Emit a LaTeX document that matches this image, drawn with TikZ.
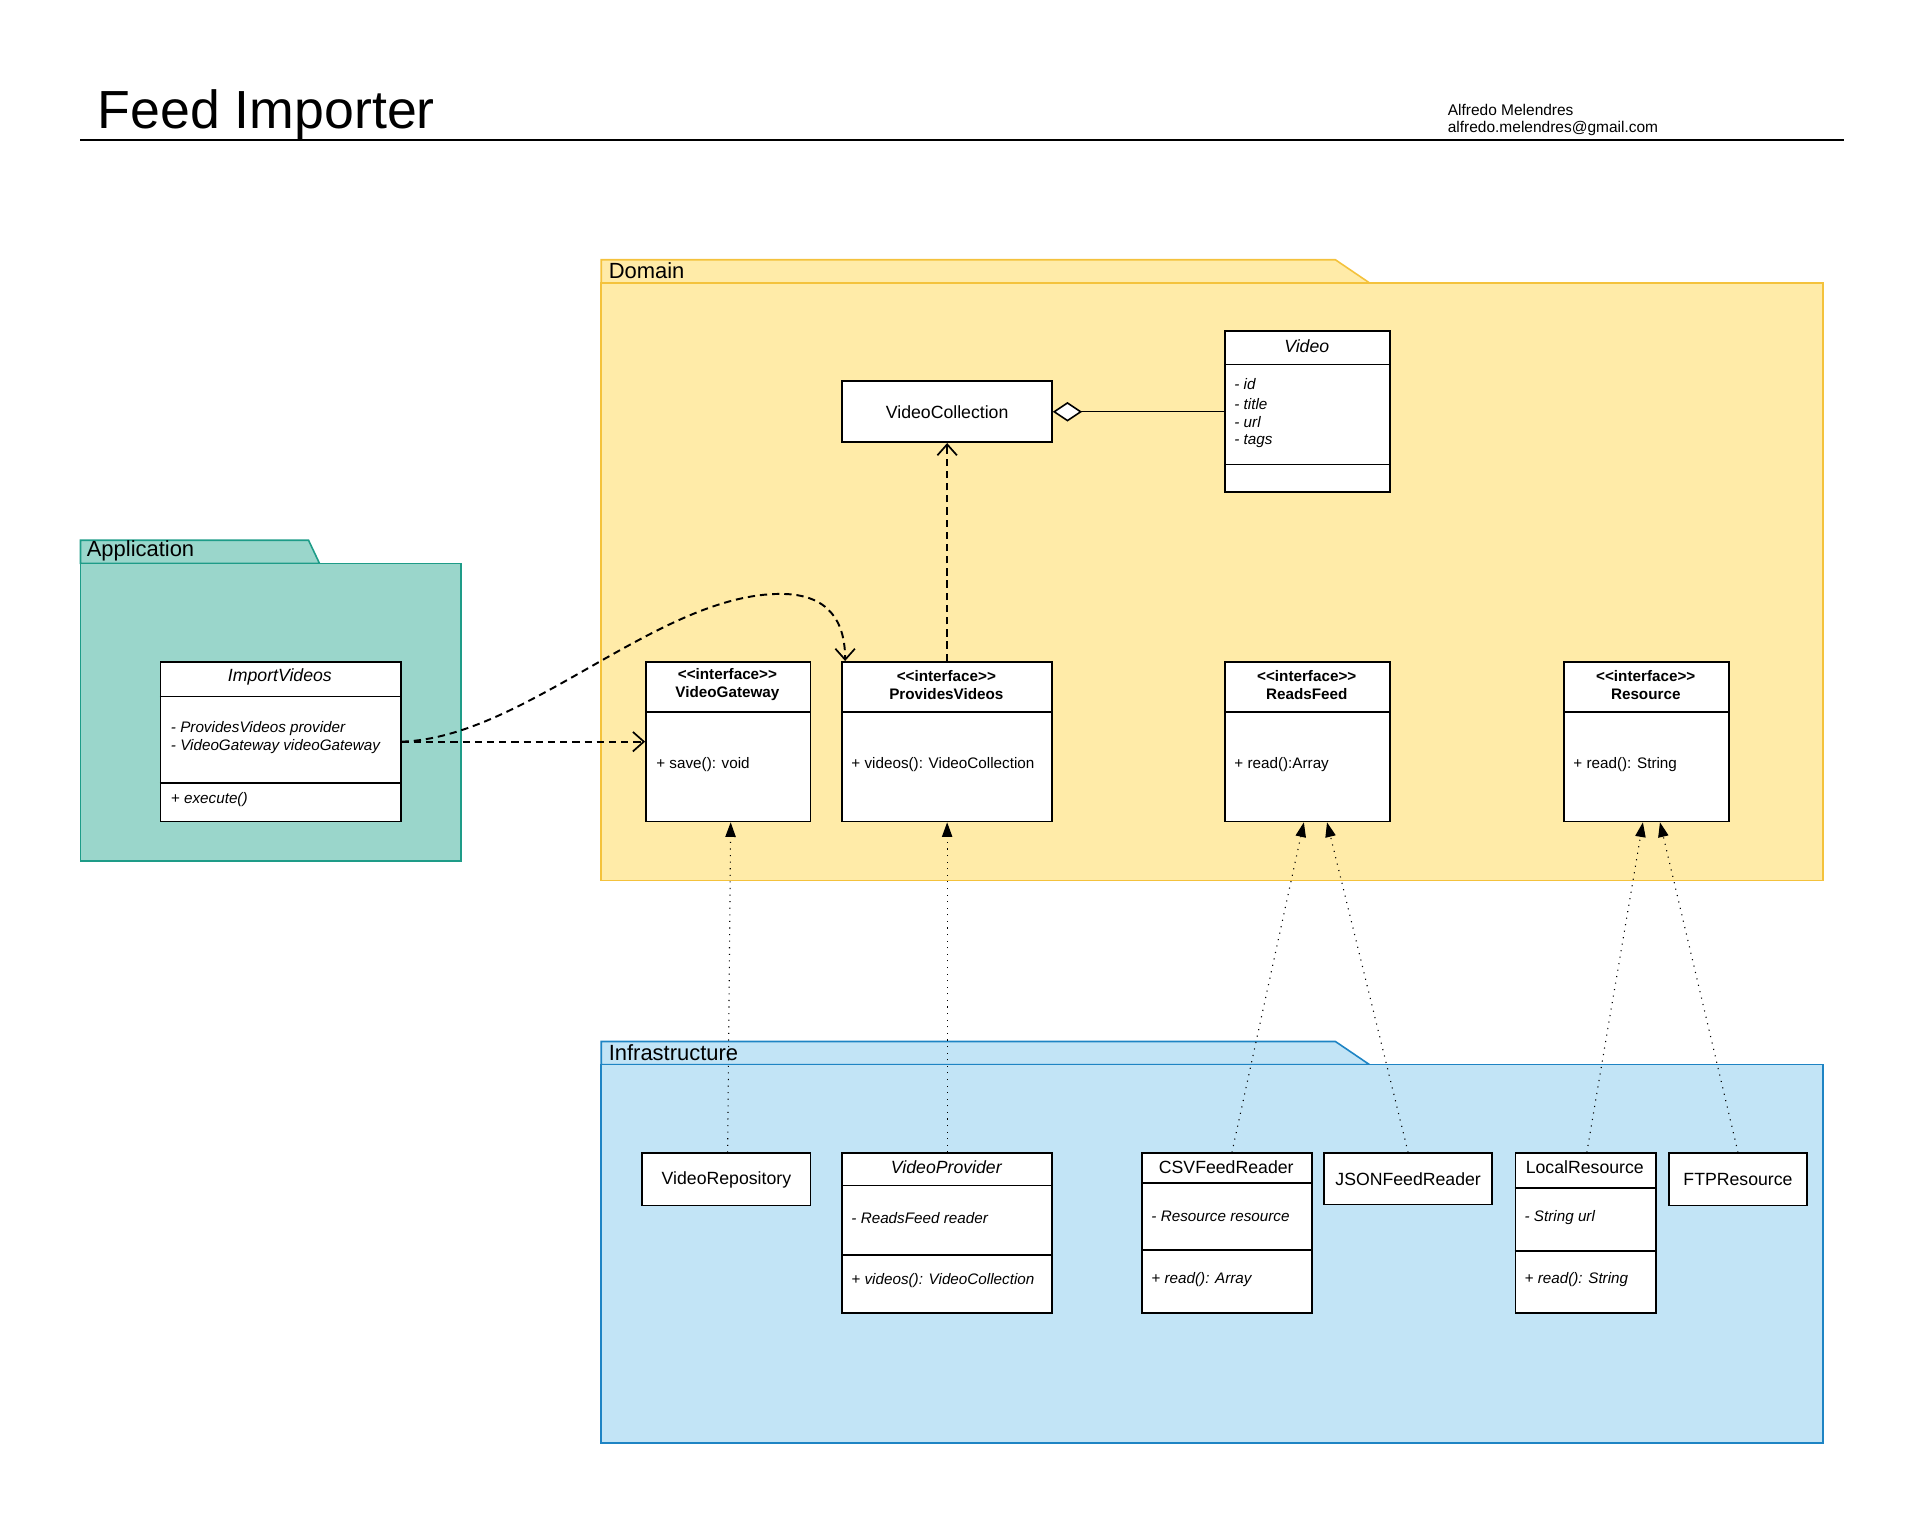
\documentclass[tikz,border=0pt]{standalone}
\usepackage{fontspec}
\setmainfont{Liberation Sans}
\usetikzlibrary{arrows.meta}
\newcommand\FtTitle{\fontsize{44}{52}\selectfont}
\newcommand\FtCls{\fontsize{14.5}{17}\selectfont}
\newcommand\FtSm{\fontsize{12.5}{15}\selectfont}
\newcommand\FtPkg{\fontsize{18}{21}\selectfont}
\newcommand\FtAuth{\fontsize{12.7}{15}\selectfont}
\newcommand\IfcLabel{<\kern0pt<\kern0pt interface>\kern0pt>}
\definecolor{domfill}{RGB}{255,235,168}
\definecolor{domline}{RGB}{244,194,60}
\definecolor{appfill}{RGB}{154,214,203}
\definecolor{appline}{RGB}{30,156,136}
\definecolor{infill}{RGB}{194,228,246}
\definecolor{inline}{RGB}{30,132,196}
\tikzset{
  box/.style={draw=black, fill=white, line width=1.3pt, inner sep=0pt, anchor=north west},
  div/.style={draw=black, line width=1.3pt},
  txt/.style={inner sep=0pt, anchor=west, font=\FtSm},
  ctr/.style={inner sep=0pt, anchor=center},
  pkg/.style={line width=1.3pt},
  dep/.style={line width=1.6pt, dash pattern=on 6pt off 4pt, -{Straight Barb[length=9pt,width=16pt,line width=1.4pt]}},
  real/.style={line width=0.9pt, dash pattern=on 0.9pt off 4.5pt, -{Triangle[length=12pt,width=8.5pt]}},
}
\begin{document}
\begin{tikzpicture}[x=1pt,y=-1pt]
\useasboundingbox (0,0) rectangle (1567,1241.5);
% header
\node[inner sep=0pt, anchor=base west, font=\FtTitle] (title) at (80,105) {Feed Importer};
\draw[line width=2pt] (66,115) -- (1512,115);
\node[inner sep=0pt, anchor=west, font=\FtAuth] (auth1) at (1187,90) {Alfredo Melendres};
\node[inner sep=0pt, anchor=west, font=\FtAuth] (auth2) at (1187,105) {alfredo.melendres@gmail.com};

% packages
\filldraw[pkg, fill=domfill, draw=domline] (493,232) -- (493,213) -- (1095,213) -- (1123,232) -- cycle;
\filldraw[pkg, fill=domfill, draw=domline] (493,232) rectangle (1495,722);
\node[inner sep=0pt, anchor=west, font=\FtPkg] (pdom) at (499,222) {Domain};

\filldraw[pkg, fill=appfill, draw=appline] (66,462) -- (66,443) -- (253,443) -- (262,462) -- cycle;
\filldraw[pkg, fill=appfill, draw=appline] (66,462) rectangle (378,706);
\node[inner sep=0pt, anchor=west, font=\FtPkg] (papp) at (71,452) {Application};

\filldraw[pkg, fill=infill, draw=inline] (493,873) -- (493,854) -- (1095,854) -- (1123,873) -- cycle;
\filldraw[pkg, fill=infill, draw=inline] (493,873) rectangle (1495,1183);
\node[inner sep=0pt, anchor=west, font=\FtPkg] (pinf) at (499,863) {Infrastructure};

% Domain classes
\node[box, minimum width=172, minimum height=50, font=\FtCls] (vc) at (690,312) {VideoCollection};

\node[box, minimum width=135, minimum height=132] (video) at (1004,271) {};
\draw[div] (1004,299) -- (1139,299);
\draw[div] (1004,381) -- (1139,381);
\node[ctr, font=\FtCls\itshape] (videot) at (1071.5,284) {Video};
\node[txt, font=\FtSm\itshape] (va1) at (1012,315) {- id};
\node[txt, font=\FtSm\itshape] (va2) at (1012,331) {- title};
\node[txt, font=\FtSm\itshape] (va3) at (1012,346) {- url};
\node[txt, font=\FtSm\itshape] (va4) at (1012,362) {- tags};

\node[box, minimum width=135, minimum height=131] (vg) at (529,542) {};
\draw[div] (529,584) -- (664,584);
\node[ctr, font=\FtSm\bfseries, align=center] (vgt) at (596.5,561.5) {\IfcLabel\\VideoGateway};
\node[txt] (vgm) at (538,627) {+ save(): void};

\node[box, minimum width=172, minimum height=131] (pv) at (690,542) {};
\draw[div] (690,584) -- (862,584);
\node[ctr, font=\FtSm\bfseries, align=center] (pvt) at (776,561.5) {\IfcLabel\\ProvidesVideos};
\node[txt] (pvm) at (698,627) {+ videos(): VideoCollection};

\node[box, minimum width=135, minimum height=131] (rf) at (1004,542) {};
\draw[div] (1004,584) -- (1139,584);
\node[ctr, font=\FtSm\bfseries, align=center] (rft) at (1071.5,561.5) {\IfcLabel\\ReadsFeed};
\node[txt] (rfm) at (1012,627) {+ read():Array};

\node[box, minimum width=135, minimum height=131] (rs) at (1282,542) {};
\draw[div] (1282,584) -- (1417,584);
\node[ctr, font=\FtSm\bfseries, align=center] (rst) at (1349.5,561.5) {\IfcLabel\\Resource};
\node[txt] (rsm) at (1290,627) {+ read(): String};

% Application class
\node[box, minimum width=197, minimum height=131] (iv) at (131,542) {};
\draw[div] (131,571) -- (328,571);
\draw[div] (131,642) -- (328,642);
\node[ctr, font=\FtCls\itshape] (ivt) at (229.5,555) {ImportVideos};
\node[txt, font=\FtSm\itshape] (iva1) at (140,597) {- ProvidesVideos provider};
\node[txt, font=\FtSm\itshape] (iva2) at (140,612) {- VideoGateway videoGateway};
\node[txt, font=\FtSm\itshape] (ivm) at (140,656) {+ execute()};

% Infrastructure classes
\node[box, minimum width=138, minimum height=43, font=\FtCls] (vr) at (526,945) {VideoRepository};

\node[box, minimum width=172, minimum height=131] (vp) at (690,945) {};
\draw[div] (690,972) -- (862,972);
\draw[div] (690,1029) -- (862,1029);
\node[ctr, font=\FtCls\itshape] (vpt) at (776,957) {VideoProvider};
\node[txt, font=\FtSm\itshape] (vpa) at (698,999) {- ReadsFeed reader};
\node[txt, font=\FtSm\itshape] (vpm) at (698,1050) {+ videos(): VideoCollection};

\node[box, minimum width=139, minimum height=131] (csv) at (936,945) {};
\draw[div] (936,970) -- (1075,970);
\draw[div] (936,1025) -- (1075,1025);
\node[ctr, font=\FtCls] (csvt) at (1005.5,957) {CSVFeedReader};
\node[txt, font=\FtSm\itshape] (csva) at (944,997) {- Resource resource};
\node[txt, font=\FtSm\itshape] (csvm) at (944,1049) {+ read(): Array};

\node[box, minimum width=138, minimum height=42, font=\FtCls] (json) at (1085,945) {JSONFeedReader};

\node[box, minimum width=115, minimum height=131] (lr) at (1242,945) {};
\draw[div] (1242,974) -- (1357,974);
\draw[div] (1242,1026) -- (1357,1026);
\node[ctr, font=\FtCls] (lrt) at (1299.5,957) {LocalResource};
\node[txt, font=\FtSm\itshape] (lra) at (1250,998) {- String url};
\node[txt, font=\FtSm\itshape] (lrm) at (1250,1049) {+ read(): String};

\node[box, minimum width=113, minimum height=43, font=\FtCls] (ftp) at (1368,945) {FTPResource};

% connectors
\draw[line width=1pt, {Diamond[open, fill=white, length=24pt, width=16pt, line width=1.3pt]}-] (vc.east) -- (vc.east -| video.west);
\draw[dep] (pv.north) -- (vc.south);
\draw[dep] (iv.east) -- (vg.west);
\draw[dep] (iv.east) .. controls (430,605) and (540,487) .. (640,487) .. controls (680,487) and (693,510) .. ([xshift=3pt]pv.north west);

\draw[real] ([xshift=1pt]vr.north) -- ([xshift=2pt]vg.south);
\draw[real] (vp.north) -- (pv.south);
\draw[real] ([xshift=4pt]csv.north) -- ([xshift=-3pt]rf.south);
\draw[real] (json.north) -- ([xshift=16pt]rf.south);
\draw[real] ([xshift=1pt]lr.north) -- ([xshift=-3pt]rs.south);
\draw[real] (ftp.north) -- ([xshift=11pt]rs.south);
\end{tikzpicture}
\end{document}
